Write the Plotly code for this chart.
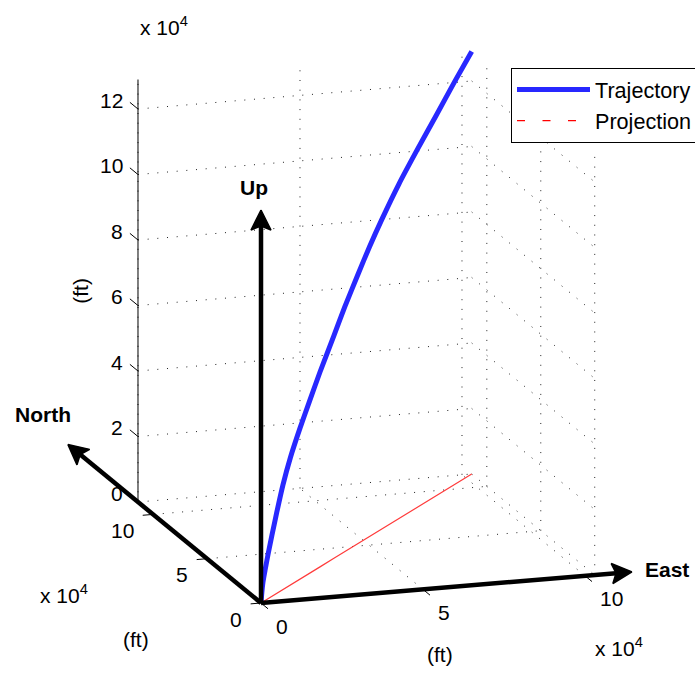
import math
import plotly.graph_objects as go

# ---------------- data ----------------
# trajectory samples, in feet
east_ft = [0, 410, 980, 2060, 3610, 5360, 7730, 10710, 14420, 19060, 23690,
           28840, 35640, 40990, 47380, 53050, 59020, 67470, 76120, 85490,
           94660, 103000]
north_ft = [0, 460, 1080, 2280, 3990, 5930, 8550, 11860, 15960, 21090, 26220,
            31920, 39440, 45370, 52440, 58710, 65320, 74670, 84250, 94620,
            104770, 114000]
up_ft = [0, 3000, 6100, 9500, 14000, 18700, 24800, 31900, 39000, 46100, 52500,
         59500, 68000, 74800, 82200, 88500, 94500, 102200, 109000, 116000,
         123000, 129000]

east_ticks = [0, 5, 10]
north_ticks = [0, 5, 10]
up_ticks = [0, 2, 4, 6, 8, 10, 12]
tick_unit = 1e4          # axes are labelled "x 10^4"

series_names = ["Trajectory", "Projection"]
direction_labels = ["East", "North", "Up"]

# ---------------- view / style ----------------
FONT = "Liberation Sans, Arial, Helvetica, sans-serif"
FS = 21
W, H = 695, 675
ORIG = (261.0, 603.0)       # screen position of the data origin
EV = (32.4, -2.72)          # screen step per 1e4 ft East
NV = (-10.79, -8.86)        # screen step per 1e4 ft North
UV = (0.0, -32.75)          # screen step per 1e4 ft Up
ARROW_LEN = {"East": (11.45, 0, 0), "North": (0, 17.9, 0), "Up": (0, 0, 12.0)}
HEAD_LEN, HEAD_HALF, HEAD_NOTCH = 20.0, 10.0, 16.0


def proj(e, n, u):
    return (ORIG[0] + EV[0] * e + NV[0] * n + UV[0] * u,
            ORIG[1] + EV[1] * e + NV[1] * n + UV[1] * u)


E = [v / tick_unit for v in east_ft]
N = [v / tick_unit for v in north_ft]
U = [v / tick_unit for v in up_ft]
emax, nmax, umax = max(E), max(N), max(U)


def seg_trace(segs, **line):
    xs, ys = [], []
    for a, b in segs:
        p, q = proj(*a), proj(*b)
        xs += [p[0], q[0], None]
        ys += [p[1], q[1], None]
    return go.Scatter(x=xs, y=ys, mode="lines", line=line,
                      hoverinfo="skip", showlegend=False)


fig = go.Figure()

# ---- dotted grid on floor and back walls ----
grid = []
for e in east_ticks:
    grid.append(((e, 0, 0), (e, nmax, 0)))              # floor
    grid.append(((e, nmax, 0), (e, nmax, umax)))        # back wall
for n in north_ticks:
    grid.append(((0, n, 0), (emax, n, 0)))              # floor
    grid.append(((emax, n, 0), (emax, n, umax)))        # right wall
for u in up_ticks:
    grid.append(((0, nmax, u), (emax, nmax, u)))        # back wall
    grid.append(((emax, nmax, u), (emax, 0, u)))        # right wall
fig.add_trace(seg_trace(grid, color="#222222", width=1, dash="1px,8.7px"))

# ---- axis line (Up) and tick marks ----
axis_segs = [((0, nmax, 0), (0, nmax, umax))]
for u in up_ticks:
    axis_segs.append(((0, nmax, u), (0, nmax + 0.75, u)))
for n in north_ticks:
    axis_segs.append(((0, n, 0), (-0.32, n, 0)))
for e in east_ticks:
    axis_segs.append(((e, 0, 0), (e, -0.65, 0)))
axis_segs.append(((0, 0, 0), (emax, 0, 0)))
axis_segs.append(((0, 0, 0), (0, nmax, 0)))
fig.add_trace(seg_trace(axis_segs, color="black", width=1))

# ---- ground projection (drawn solid) ----
px, py = zip(*[proj(e, n, 0) for e, n in zip(E, N)])
fig.add_trace(go.Scatter(x=px, y=py, mode="lines",
                         line=dict(color="#ff3b3b", width=1.2),
                         hoverinfo="skip", showlegend=False))

# ---- trajectory ----
tx, ty = zip(*[proj(e, n, u) for e, n, u in zip(E, N, U)])
fig.add_trace(go.Scatter(x=tx, y=ty, mode="lines", name=series_names[0],
                         line=dict(color="rgb(40,40,255)", width=5,
                                   shape="spline", smoothing=0.6),
                         hoverinfo="skip"))

# legend entry for the projection (dashed style as in the legend)
fig.add_trace(go.Scatter(x=[None], y=[None], mode="lines", name=series_names[1],
                         line=dict(color="#ff0000", width=1.3,
                                   dash="8px,17.5px")))

# ---- direction arrows (shaft + notched head) ----
ox, oy = proj(0, 0, 0)
sx, sy, hx, hy = [], [], [], []
tips = {}
for name in direction_labels:
    tx_, ty_ = proj(*ARROW_LEN[name])
    tips[name] = (tx_, ty_)
    L = math.hypot(tx_ - ox, ty_ - oy)
    dx, dy = (tx_ - ox) / L, (ty_ - oy) / L
    qx, qy = -dy, dx
    bx, by = tx_ - HEAD_LEN * dx, ty_ - HEAD_LEN * dy
    nx_, ny_ = tx_ - HEAD_NOTCH * dx, ty_ - HEAD_NOTCH * dy
    sx += [ox, nx_, None]
    sy += [oy, ny_, None]
    hx += [tx_, bx + HEAD_HALF * qx, nx_, bx - HEAD_HALF * qx, tx_, None]
    hy += [ty_, by + HEAD_HALF * qy, ny_, by - HEAD_HALF * qy, ty_, None]
fig.add_trace(go.Scatter(x=sx, y=sy, mode="lines",
                         line=dict(color="black", width=4.5),
                         hoverinfo="skip", showlegend=False))
fig.add_trace(go.Scatter(x=hx, y=hy, mode="lines", fill="toself",
                         fillcolor="black", line=dict(color="black", width=1.5),
                         hoverinfo="skip", showlegend=False))

ann = []


def text(x, y, s, xanchor="center", yanchor="middle", size=FS, angle=0):
    ann.append(dict(x=x, y=y, xref="x", yref="y", text=s, showarrow=False,
                    xanchor=xanchor, yanchor=yanchor, textangle=angle,
                    font=dict(family=FONT, size=size, color="black")))


# tick labels
for u in up_ticks:
    x, y = proj(0, nmax, u)
    text(x - 13, y - 9, str(u), xanchor="right")
for n in north_ticks:
    x, y = proj(0, n, 0)
    text(x - 17, y + 16, str(n), xanchor="right")
for e in east_ticks:
    x, y = proj(e, 0, 0)
    text(x + 13, y + 23, str(e), xanchor="left")

# exponent labels
mult = "x 10<sup>4</sup>"
x, y = proj(0, nmax, umax)
text(x, y - 54, mult, xanchor="left")
x, y = proj(0, nmax, 0)
text(x - 100, y + 92, mult, xanchor="left")
x, y = proj(emax, 0, 0)
text(x - 2, y + 72, mult, xanchor="left")

# unit labels
x, y = proj(0, nmax, umax / 2)
text(x - 57, y, "(ft)", angle=-90)
x, y = proj(0, nmax / 2, 0)
text(x - 64, y + 87, "(ft)")
x, y = proj(emax / 2, 0, 0)
text(x + 12, y + 66, "(ft)")

# direction labels
x, y = tips["East"]
text(x + 11, y - 2, "<b>East</b>", xanchor="left")
x, y = tips["North"]
text(x - 25, y - 30, "<b>North</b>")
x, y = tips["Up"]
text(x - 7, y - 23, "<b>Up</b>")

fig.update_layout(
    width=W, height=H,
    margin=dict(l=0, r=0, t=0, b=0, autoexpand=False),
    paper_bgcolor="white", plot_bgcolor="white",
    xaxis=dict(range=[0, W], visible=False, fixedrange=True),
    yaxis=dict(range=[H, 0], visible=False, fixedrange=True),
    font=dict(family=FONT, size=FS, color="black"),
    showlegend=True,
    legend=dict(x=511 / W, y=1 - 68 / H,
                xanchor="left", yanchor="top",
                bgcolor="white", bordercolor="black", borderwidth=1,
                itemwidth=73, tracegroupgap=0,
                font=dict(family=FONT, size=21.6, color="black")),
    annotations=ann,
)

fig.write_html(
    "out.html",
    config={"displayModeBar": False},
    post_script="document.body.style.margin='0';"
                "document.body.style.overflow='hidden';",
)
